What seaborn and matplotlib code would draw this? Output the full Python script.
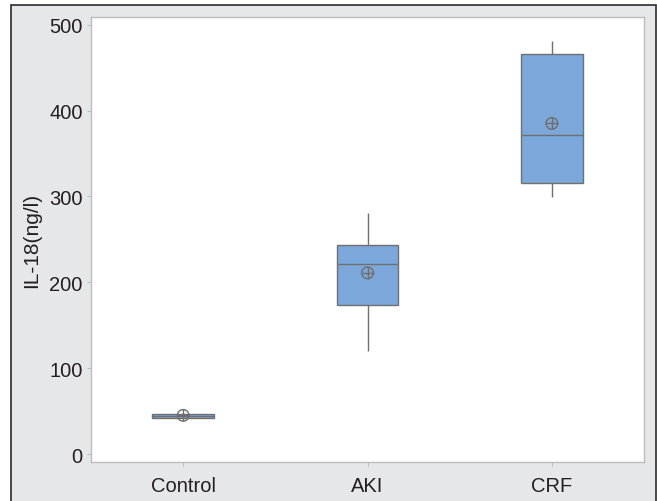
import matplotlib
matplotlib.use("Agg")
import matplotlib.pyplot as plt
import matplotlib.patches as patches
import pandas as pd
import seaborn as sns

# five-number summaries: min, q1, median, q3, max
groups = ["Control", "AKI", "CRF"]
control_vals = [41, 42, 44, 47, 48]
aki_vals = [120, 174, 221, 244, 281]
crf_vals = [299, 316, 372, 466, 481]
means = [45, 211, 385]

df = pd.DataFrame({
    "group": [g for g, v in zip(groups, [control_vals, aki_vals, crf_vals]) for _ in v],
    "value": control_vals + aki_vals + crf_vals,
})

sns.set_style("white")
plt.rcParams["font.family"] = ["Liberation Sans", "DejaVu Sans"]

fig = plt.figure(figsize=(6.57, 5.02), dpi=100, facecolor="white")

# grey panel with dark border behind everything
panel = patches.Rectangle((11 / 657, -0.02), (656 - 11) / 657, (502 - 6) / 502 + 0.02,
                          transform=fig.transFigure, facecolor="#E6E7E9",
                          edgecolor="#2b2b2b", linewidth=1.2, zorder=-10)
fig.patches.append(panel)

ax = fig.add_axes([91 / 657, 1 - 463 / 502, 553 / 657, (463 - 18) / 502])
ax.set_facecolor("white")

sns.boxplot(data=df, x="group", y="value", order=groups, ax=ax,
            color="#7BA7DA", saturation=1, width=0.335, linecolor="#707070",
            linewidth=1.0, whis=10, showfliers=False, showcaps=False)

ax.scatter(range(len(groups)), means, s=70, facecolors="none",
           edgecolors="#6E6E6E", linewidths=1.0, zorder=5)
ax.scatter(range(len(groups)), means, s=70, marker="+", c="#6E6E6E",
           linewidths=1.0, zorder=5)

ax.set_xlim(-0.5, 2.5)
ax.set_ylim(-9.3, 509)
ax.set_yticks([0, 100, 200, 300, 400, 500])
ax.set_xlabel("")
ax.set_ylabel("IL-18(ng/l)", fontsize=15, color="#231f20", labelpad=6)

for s in ax.spines.values():
    s.set_color("#BDBDBD")
    s.set_linewidth(1.0)
ax.tick_params(axis="both", which="both", direction="out", length=3, width=0.8,
               color="#BDBDBD", labelsize=14.5, labelcolor="#231f20", pad=3)
ax.tick_params(axis="x", pad=7)
ax.tick_params(left=True, bottom=True)

fig.savefig("out.png", dpi=100, facecolor=fig.get_facecolor())
